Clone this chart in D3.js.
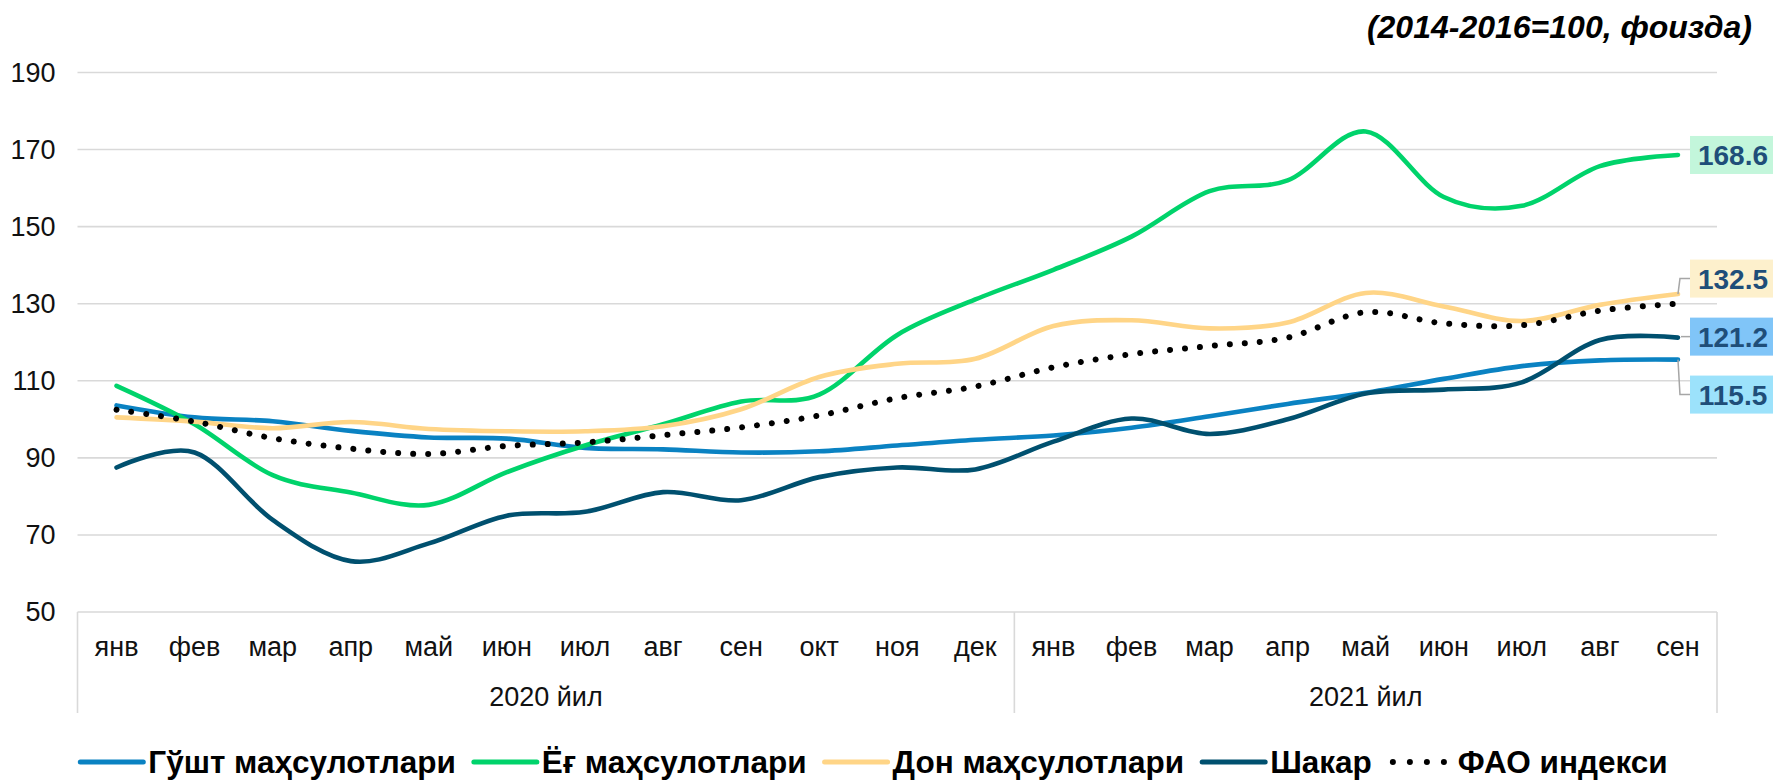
<!DOCTYPE html>
<html><head><meta charset="utf-8">
<script src="https://cdn.jsdelivr.net/npm/d3@7"></script>
<style>
html,body{margin:0;padding:0;background:#fff;}
svg{display:block;font-family:"Liberation Sans",Arial,sans-serif;}
</style></head>
<body>
<svg id="chart" width="1773" height="780"></svg>
<script>
// ---------- DATA ----------
const months = ["янв","фев","мар","апр","май","июн","июл","авг","сен","окт","ноя","дек",
                "янв","фев","мар","апр","май","июн","июл","авг","сен"];
const years = [{label:"2020 йил", from:0, to:11},{label:"2021 йил", from:12, to:20}];
const yTicks = [50,70,90,110,130,150,170,190];
const seriesNames = ["Гўшт маҳсулотлари","Ёғ маҳсулотлари","Дон маҳсулотлари","Шакар","ФАО индекси"];
const meat    = [103.6,100.5,99.5,97.0,95.3,95.0,92.6,92.2,91.4,91.7,93.2,94.7, 95.8,97.8,100.8,104.0,106.9,110.5,113.8,115.3,115.5];
const oils    = [108.7,98.7,85.5,81.0,77.8,86.3,93.2,98.7,104.6,106.4,121.9,131.1, 138.8,147.4,159.2,162.0,174.7,157.7,155.4,165.7,168.6];
const cereals = [100.5,99.4,97.7,99.3,97.5,96.9,96.9,98.2,102.6,111.0,114.4,115.7, 124.2,125.7,123.6,125.1,132.8,129.3,125.5,129.7,132.5];
const sugar   = [87.5,91.4,73.9,63.2,67.8,75.0,76.0,81.1,79.0,85.0,87.5,87.0, 94.2,100.2,96.2,100.0,106.7,107.7,109.6,120.6,121.2];
const fao     = [102.5,99.4,95.1,92.4,91.0,93.1,94.0,95.9,97.9,101.0,105.5,108.5, 113.5,116.9,119.0,121.2,127.8,124.9,124.4,128.2,130.0];
const endLabels = ["168.6","132.5","121.2","115.5"];
const titleText = "(2014-2016=100, фоизда)";

// ---------- STYLE ----------
const colors = ["#0a82c2","#00d36b","#ffd587","#00506f","#000000"];
const seriesData = [meat, oils, cereals, sugar, fao];
const drawOrder = [0,1,2,3,4];

const svg = d3.select("#chart");
const plot = {left:77.5, right:1717, top:72.5, bottom:612};
const axisFont = 27;

const x = d3.scaleBand().domain(d3.range(months.length)).range([plot.left, plot.right]);
const xc = i => x(i) + x.bandwidth()/2;
const y = d3.scaleLinear().domain([50,190]).range([plot.bottom, plot.top]);

// gridlines
svg.append("g").selectAll("line").data(yTicks).join("line")
  .attr("x1", plot.left).attr("x2", plot.right)
  .attr("y1", d=>y(d)).attr("y2", d=>y(d))
  .attr("stroke", "#d9d9d9").attr("stroke-width", 1.6);

// y axis labels
const yAxis = d3.axisLeft(y).tickValues(yTicks).tickSize(0).tickPadding(0);
const gy = svg.append("g").attr("transform", `translate(${plot.left-22},0)`).call(yAxis);
gy.select(".domain").remove();
gy.selectAll("text").attr("font-size", axisFont).attr("fill", "#111").attr("font-family","Liberation Sans, Arial, sans-serif");

// category axis box
const boxBottom = 713;
const sepXs = [plot.left, x(years[1].from), plot.right];
svg.append("g").selectAll("line").data(sepXs).join("line")
  .attr("x1", d=>d).attr("x2", d=>d).attr("y1", plot.bottom).attr("y2", boxBottom)
  .attr("stroke", "#d9d9d9").attr("stroke-width", 1.6);

const xAxis = d3.axisBottom(x).tickFormat(i=>months[i]).tickSize(0).tickPadding(0);
const gx = svg.append("g").attr("transform", `translate(0,${plot.bottom})`).call(xAxis);
gx.select(".domain").remove();
gx.selectAll("text").attr("font-size", axisFont).attr("fill", "#111")
  .attr("dy", null).attr("y", 44).attr("font-family","Liberation Sans, Arial, sans-serif");

svg.append("g").selectAll("text").data(years).join("text")
  .attr("x", d => (x(d.from) + x(d.to) + x.bandwidth())/2)
  .attr("y", 706).attr("text-anchor","middle")
  .attr("font-size", axisFont).attr("fill","#111").text(d=>d.label);

// lines
const line = d3.line().x((d,i)=>xc(i)).y(d=>y(d)).curve(d3.curveCardinal.tension(0));
drawOrder.forEach(k=>{
  const p = svg.append("path").datum(seriesData[k]).attr("d", line)
    .attr("fill","none").attr("stroke", colors[k]);
  if (k===4) {
    p.attr("stroke-width", 6).attr("stroke-linecap","round").attr("stroke-dasharray","0.01 15");
  } else {
    p.attr("stroke-width", 4.6).attr("stroke-linecap","round");
  }
});

// end labels
const labelSeries = [1,2,3,0];
const labelFill = ["#c3f6db","#fdf0cc","#80c5f8","#9ce2fb"];
const labelDy = [0,-15.5,-1,35];
const lastI = months.length-1;
const boxX = 1690, boxH = 38;
labelSeries.forEach((k,j)=>{
  const ex = xc(lastI), ey = y(seriesData[k][lastI]);
  const cy = ey + labelDy[j];
  if (Math.abs(labelDy[j])>3) {
    svg.append("path")
      .attr("d", `M${ex},${ey} L${ex+2},${cy} L${boxX},${cy}`)
      .attr("fill","none").attr("stroke","#a6a6a6").attr("stroke-width",1.5);
  } else if (j===2) {
    svg.append("line").attr("x1", ex+3).attr("x2", boxX).attr("y1", cy).attr("y2", cy)
      .attr("stroke","#a6a6a6").attr("stroke-width",1.5);
  }
  svg.append("rect").attr("x", boxX).attr("y", cy-boxH/2).attr("width", 90).attr("height", boxH)
    .attr("fill", labelFill[j]);
  svg.append("text").attr("x", boxX+43).attr("y", cy+10).attr("text-anchor","middle")
    .attr("font-size", 28).attr("font-weight","bold").attr("fill","#1f4e79")
    .text(endLabels[j]);
});

// title
svg.append("text").attr("x", 1752).attr("y", 38).attr("text-anchor","end")
  .attr("font-size", 32).attr("font-weight","bold").attr("font-style","italic").attr("fill","#000")
  .text(titleText);

// legend
const lg = svg.append("g");
const legY = 762;
let cx = 0;
seriesNames.forEach((name,k)=>{
  const g = lg.append("g");
  const l = g.append("line").attr("x1", cx).attr("x2", cx+63).attr("y1", legY).attr("y2", legY)
    .attr("stroke", colors[k]);
  if (k===4) l.attr("stroke-width",6).attr("stroke-linecap","round").attr("stroke-dasharray","0.01 17").attr("x1",cx+3).attr("x2",cx+60);
  else l.attr("stroke-width",5).attr("stroke-linecap","round");
  const t = g.append("text").attr("x", cx+68).attr("y", legY+11)
    .attr("font-size", 31.5).attr("font-weight","bold").attr("fill","#000").text(name);
  cx += 68 + t.node().getComputedTextLength() + 18;
});
const legW = cx - 18;
lg.attr("transform", `translate(${(69+1679)/2 - legW/2},0)`);
</script>
</body></html>
